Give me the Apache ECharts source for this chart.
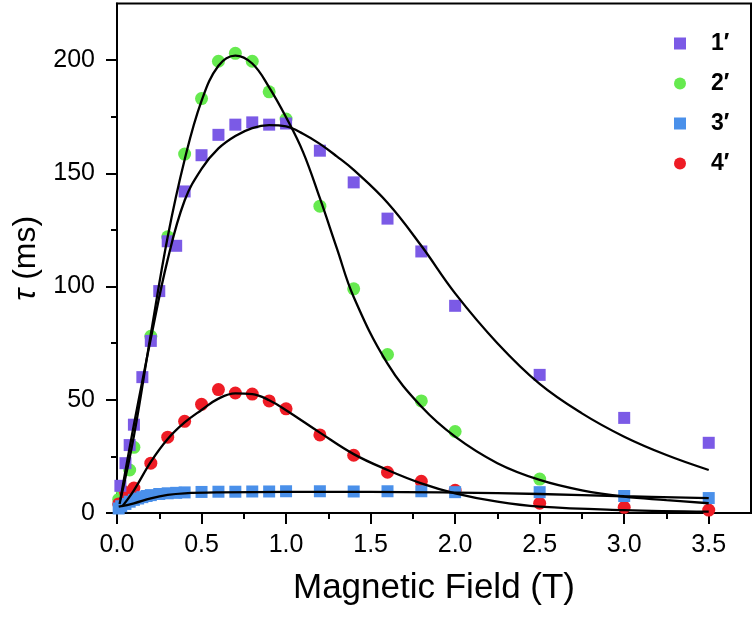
<!DOCTYPE html>
<html><head><meta charset="utf-8">
<script src="https://cdn.jsdelivr.net/npm/echarts@6/dist/echarts.min.js"></script>
<style>html,body{margin:0;padding:0;background:#fff}#c{width:756px;height:623px}</style>
</head><body><div id="c"></div>
<script>
// ---- data ----
const seriesNames = ['1\u2032', '2\u2032', '3\u2032', '4\u2032'];
const xTicks = [0, 0.5, 1.0, 1.5, 2.0, 2.5, 3.0, 3.5];
const yTicks = [0, 50, 100, 150, 200];

const x1 = [0.02,0.05,0.075,0.1,0.15,0.2,0.25,0.3,0.35,0.4,0.5,0.6,0.7,0.8,0.9,1.0,1.2,1.4,1.6,1.8,2.0,2.5,3.0,3.5];
const y1 = [12,22,30,39,60,76,98,120,118,142,158,167,171.5,172.5,171.5,172,160,146,130,115.5,91.5,61,42,31];

const x2 = [0.01,0.03,0.075,0.1,0.2,0.3,0.4,0.5,0.6,0.7,0.8,0.9,1.0,1.2,1.4,1.6,1.8,2.0,2.5];
const y2 = [6,10,19,29,78,122,158.5,183,199.5,203,199.5,186,174,135.5,99,70,49.5,36,15];

const x3 = [0.01,0.025,0.05,0.075,0.1,0.125,0.15,0.175,0.2,0.25,0.3,0.35,0.4,0.5,0.6,0.7,0.8,0.9,1.0,1.2,1.4,1.6,1.8,2.0,2.5,3.0,3.5];
const y3 = [2,3,4,5,5.8,6.4,7,7.5,7.9,8.4,8.7,8.9,9.1,9.3,9.4,9.4,9.5,9.5,9.6,9.6,9.5,9.6,9.6,9.2,9.2,7.5,6.6];

const x4 = [0.01,0.05,0.1,0.2,0.3,0.4,0.5,0.6,0.7,0.8,0.9,1.0,1.2,1.4,1.6,1.8,2.0,2.5,3.0,3.5];
const y4 = [4,9,11,22,33.5,40.5,48,54.5,53,52.5,49.5,46,34.5,25.5,18,14,10,4.3,2.5,1.3];

// fitted curves
const fit1X = [0.02,0.1,0.2,0.3,0.4,0.5,0.6,0.7,0.8,0.9,1.0,1.1,1.2,1.3,1.4,1.6,1.8,2.0,2.25,2.5,2.75,3.0,3.25,3.5];
const fit1Y = [6,39,77,112,138,152,161,166.5,170,171.3,170.7,167.5,163,157.5,151.5,137,118,97,75,57,44,33.7,25.6,19];
const fit2X = [0.015,0.1,0.2,0.3,0.4,0.5,0.6,0.7,0.8,0.9,1.0,1.1,1.2,1.3,1.4,1.6,1.8,2.0,2.25,2.5,2.75,3.0,3.25,3.5];
const fit2Y = [4,34,79,122,156,182,197.5,202,198.5,188,174.8,159.5,139,117,95.4,66,47,33.7,22,14.6,10,7.2,5.7,4.3];
const fit3X = [0.01,0.1,0.2,0.3,0.4,0.6,1.0,1.5,2.0,2.5,3.0,3.5];
const fit3Y = [2.8,4.3,6.5,8,8.7,9.1,9.3,9.3,9.0,8.4,7.4,6.6];
const fit4X = [0.03,0.1,0.2,0.3,0.4,0.5,0.6,0.7,0.8,0.9,1.0,1.2,1.4,1.6,1.8,2.0,2.25,2.5,3.0,3.5];
const fit4Y = [2.8,10,22.6,32.7,40,45.5,50.5,52.8,52.5,49.8,45.4,35.5,26,19,13.1,8.7,5,2.8,1.3,0.6];

// ---- chart ----
const pair = (xs, ys) => xs.map((x, i) => [x, ys[i]]);
const FONT = "'Liberation Sans', Arial, Helvetica, sans-serif";
const colors = {c1:'#7b5ae6', c2:'#66ea4f', c3:'#4a90ea', c4:'#ee1c25'};

function scatter(name, xs, ys, symbol, size, color, z) {
  return {type:'scatter', name, data: pair(xs, ys), symbol, symbolSize: size,
    itemStyle:{color, opacity:1}, z, emphasis:{disabled:true}};
}
function fit(xs, ys) {
  return {type:'line', data: pair(xs, ys), smooth: 0.4, showSymbol:false, symbol:'none',
    lineStyle:{color:'#000', width:2.3}, z: 10, silent:true};
}

const chart = echarts.init(document.getElementById('c'), null, {renderer:'canvas'});
chart.setOption({
  animation:false,
  backgroundColor:'#fff',
  grid:{left:117, right:5, top:3.5, bottom:110, show:true, borderColor:'#000', borderWidth:2, backgroundColor:'transparent'},
  legend:{
    data: seriesNames, orient:'vertical', left:669, top:27, itemWidth:12, itemHeight:12, itemGap:17,
    textStyle:{fontFamily:FONT, fontSize:23, fontWeight:'bold', color:'#000', lineHeight:22, padding:[0,0,0,20]},
    selectedMode:false
  },
  xAxis:{
    type:'value', min:0, max:3.75, interval:0.5,
    axisLine:{show:true, onZero:false, lineStyle:{color:'#000', width:2}},
    axisTick:{show:true, length:11, lineStyle:{color:'#000', width:2}, customValues: xTicks},
    minorTick:{show:true, splitNumber:2, length:6, lineStyle:{color:'#000', width:2}},
    axisLabel:{fontFamily:FONT, fontSize:25, color:'#000', margin:20, customValues: xTicks,
      formatter: v => v.toFixed(1)},
    splitLine:{show:false},
    name:'Magnetic Field (T)', nameLocation:'middle', nameGap:58,
    nameTextStyle:{fontFamily:FONT, fontSize:35, color:'#000'}
  },
  yAxis:{
    type:'value', min:0, max:225, interval:50,
    axisLine:{show:true, lineStyle:{color:'#000', width:2}},
    axisTick:{show:true, length:11, lineStyle:{color:'#000', width:2}, customValues: yTicks},
    minorTick:{show:true, splitNumber:2, length:6, lineStyle:{color:'#000', width:2}},
    axisLabel:{fontFamily:FONT, fontSize:25, color:'#000', margin:22, customValues: yTicks},
    splitLine:{show:false},
    name:'{i|\u03c4} (ms)', nameLocation:'middle', nameGap:68,
    nameTextStyle:{fontFamily:FONT, fontSize:32, color:'#000',
      rich:{i:{fontFamily:FONT, fontSize:32, fontStyle:'italic', color:'#000'}}}
  },
  series:[
    scatter(seriesNames[1], x2, y2, 'circle', 13, colors.c2, 2),
    scatter(seriesNames[3], x4, y4, 'circle', 13, colors.c4, 3),
    scatter(seriesNames[2], x3, y3, 'rect', 12, colors.c3, 4),
    scatter(seriesNames[0], x1, y1, 'rect', 12, colors.c1, 5),
    fit(fit1X, fit1Y), fit(fit2X, fit2Y), fit(fit3X, fit3Y), fit(fit4X, fit4Y)
  ]
});
</script></body></html>
